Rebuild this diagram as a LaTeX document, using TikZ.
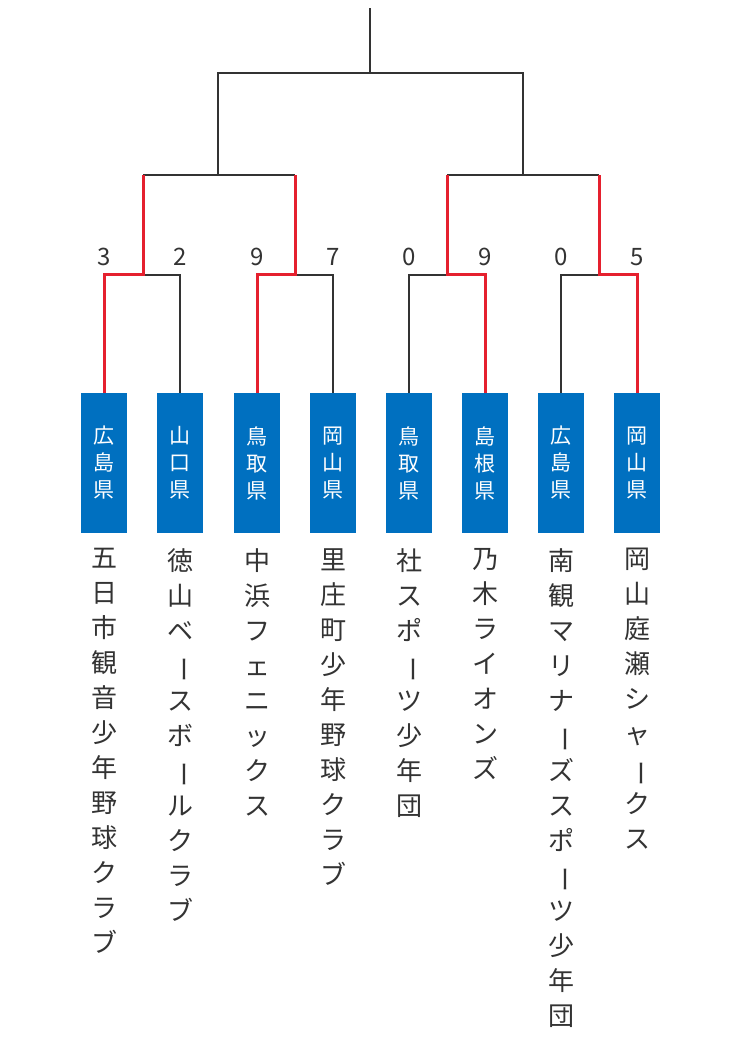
\documentclass[tikz,border=0pt]{standalone}
\usepackage{fontspec}
\setmainfont{Noto Sans CJK JP}
\usepackage{graphicx}
\definecolor{boxblue}{HTML}{0070C0}
\definecolor{winred}{HTML}{E5202E}
\definecolor{linegray}{HTML}{333333}
\newcommand{\vbar}{\rotatebox[origin=c]{-90}{ー}}
\tikzset{
    team/.style={fill=boxblue, text=white, minimum width=46pt, minimum height=140pt,
        inner sep=0pt, align=center, font=\fontsize{21}{27}\selectfont},
    club/.style={anchor=north, align=center, inner sep=0pt, text=linegray,
        font=\fontsize{26}{35}\selectfont},
    score/.style={text=linegray, font=\fontsize{24}{24}\selectfont},
    lose/.style={draw=linegray, line width=1.3pt},
    win/.style={draw=winred, line width=3pt}
}
\begin{document}
\begin{tikzpicture}[x=1pt,y=-1pt]
    \useasboundingbox (0,0) rectangle (740,1040);

    % teams
    \node[team] (b1) at (104,463) {広\\島\\県};
    \node[team] (b2) at (180,463) {山\\口\\県};
    \node[team] (b3) at (257,463) {鳥\\取\\県};
    \node[team] (b4) at (333,463) {岡\\山\\県};
    \node[team] (b5) at (409,463) {鳥\\取\\県};
    \node[team] (b6) at (485,463) {島\\根\\県};
    \node[team] (b7) at (561,463) {広\\島\\県};
    \node[team] (b8) at (637,463) {岡\\山\\県};

    % club names
    \node[club] (n1) at (104,548) {五\\日\\市\\観\\音\\少\\年\\野\\球\\ク\\ラ\\ブ};
    \node[club] (n2) at (180,548) {徳\\山\\ベ\\\vbar\\ス\\ボ\\\vbar\\ル\\ク\\ラ\\ブ};
    \node[club] (n3) at (257,548) {中\\浜\\フ\\ェ\\ニ\\ッ\\ク\\ス};
    \node[club] (n4) at (333,548) {里\\庄\\町\\少\\年\\野\\球\\ク\\ラ\\ブ};
    \node[club] (n5) at (409,548) {社\\ス\\ポ\\\vbar\\ツ\\少\\年\\団};
    \node[club] (n6) at (485,548) {乃\\木\\ラ\\イ\\オ\\ン\\ズ};
    \node[club] (n7) at (561,548) {南\\観\\マ\\リ\\ナ\\\vbar\\ズ\\ス\\ポ\\\vbar\\ツ\\少\\年\\団};
    \node[club] (n8) at (637,548) {岡\\山\\庭\\瀬\\シ\\ャ\\\vbar\\ク\\ス};

    % scores
    \foreach \i/\x/\s in {1/104/3,2/180/2,3/257/9,4/333/7,5/409/0,6/485/9,7/561/0,8/637/5}
        \node[score] (s\i) at (\x,257) {\s};

    % bracket points
    \coordinate (m1) at (143,275);
    \coordinate (m2) at (295,275);
    \coordinate (m3) at (447,275);
    \coordinate (m4) at (599,275);
    \coordinate (t1) at (143,175);
    \coordinate (t2) at (295,175);
    \coordinate (t3) at (447,175);
    \coordinate (t4) at (599,175);
    \coordinate (h1) at (218,175);
    \coordinate (h2) at (523,175);
    \coordinate (f1) at (218,73);
    \coordinate (f2) at (523,73);
    \coordinate (top) at (370,73);
    \coordinate (end) at (370,8);

    % losing paths
    \draw[lose] (b2.north) |- (m1);
    \draw[lose] (b4.north) |- (m2);
    \draw[lose] (b5.north) |- (m3);
    \draw[lose] (b7.north) |- (m4);
    \draw[lose] (t1) -- (t2);
    \draw[lose] (t3) -- (t4);
    \draw[lose] (h1) -- (f1) -- (f2) -- (h2);
    \draw[lose] (top) -- (end);

    % winning paths
    \draw[win] (b1.north) |- (m1) -- (t1);
    \draw[win] (b3.north) |- (m2) -- (t2);
    \draw[win] (b6.north) |- (m3) -- (t3);
    \draw[win] (b8.north) |- (m4) -- (t4);
\end{tikzpicture}
\end{document}
